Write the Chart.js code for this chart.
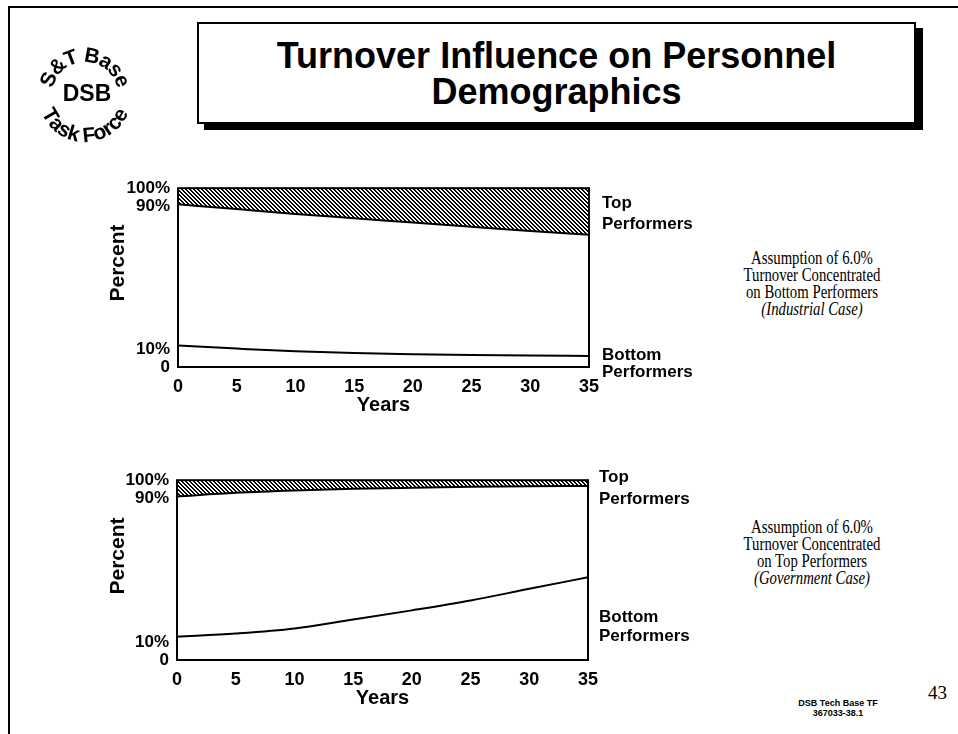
<!DOCTYPE html>
<html>
<head>
<meta charset="utf-8">
<script src="https://cdn.jsdelivr.net/npm/chart.js@4.4.1/dist/chart.umd.min.js"></script>
<style>
  html, body { margin: 0; padding: 0; background: #fff; }
  body { width: 958px; height: 734px; position: relative; overflow: hidden;
         font-family: "Liberation Sans", Arial, sans-serif; color: #000; }
  .abs { position: absolute; }
  #frameTop { left: 9px; top: 6px; width: 949px; height: 2px; background: #000; }
  #frameLeft { left: 8px; top: 6px; width: 2px; height: 728px; background: #000; }
  #titleBox { left: 197px; top: 22px; width: 715px; height: 98px; border: 2px solid #000;
              box-shadow: 7px 6px 0 #000; background: #fff; }
  .title { width: 100%; text-align: center; font-weight: bold; font-size: 36px; line-height: 36px; }
  .side { font-weight: bold; font-size: 17px; line-height: 17px; white-space: nowrap; }
  .ylab { font-weight: bold; font-size: 21px; transform: rotate(-90deg); transform-origin: center; width: 100px; text-align: center; }
  .note { width: 240px; text-align: center; font-family: "Liberation Serif", "Times New Roman", serif;
          font-size: 18px; line-height: 17px; transform: scaleX(0.82); white-space: nowrap; }
  canvas { position: absolute; }
</style>
</head>
<body>
<div id="frameTop" class="abs"></div>
<div id="frameLeft" class="abs"></div>
<canvas id="logo" width="180" height="160" style="left:0;top:0"></canvas>

<div id="titleBox" class="abs">
  <div class="title abs" style="top:14px">Turnover Influence on Personnel</div>
  <div class="title abs" style="top:50px">Demographics</div>
</div>

<canvas id="chart1" width="520" height="247" style="left:90px;top:170px"></canvas>
<canvas id="chart2" width="520" height="248" style="left:90px;top:462px"></canvas>

<div class="ylab abs" style="left:67px;top:251px">Percent</div>
<div class="ylab abs" style="left:67px;top:544px">Percent</div>

<div class="side abs" style="left:602px;top:194px">Top</div>
<div class="side abs" style="left:602px;top:215px">Performers</div>
<div class="side abs" style="left:602px;top:346px">Bottom</div>
<div class="side abs" style="left:602px;top:363px">Performers</div>

<div class="side abs" style="left:599px;top:468px">Top</div>
<div class="side abs" style="left:599px;top:490px">Performers</div>
<div class="side abs" style="left:599px;top:608px">Bottom</div>
<div class="side abs" style="left:599px;top:627px">Performers</div>

<div class="note abs" style="left:692px;top:250px">
  Assumption of 6.0%<br>Turnover Concentrated<br>on Bottom Performers<br><i>(Industrial Case)</i>
</div>
<div class="note abs" style="left:692px;top:519px">
  Assumption of 6.0%<br>Turnover Concentrated<br>on Top Performers<br><i>(Government Case)</i>
</div>

<div class="abs" style="left:780px;top:698px;width:116px;text-align:center;font-weight:bold;font-size:9px;line-height:10px">DSB Tech Base TF<br>367033-38.1</div>
<div class="abs" style="left:928px;top:682px;font-family:'Liberation Serif',serif;font-size:19px">43</div>

<script>
// Valeurs (années, % du personnel)
const years = [0, 5, 10, 15, 20, 25, 30, 35];
const industrialTop = [91, 88.3, 85.6, 83.2, 80.8, 78.4, 76, 74];
const industrialBottom = [12, 10.3, 8.8, 7.8, 7.2, 6.7, 6.4, 6.2];
const governmentTop = [91, 93, 94.3, 95.2, 95.8, 96.3, 96.6, 96.8];
const governmentBottom = [12.9, 14.7, 17.5, 22.5, 27.6, 33.1, 39.6, 46];
const yTicks = [0, 10, 90, 100];
const yTickLabels = ['0', '10%', '90%', '100%'];

Chart.defaults.font.family = "'Liberation Sans', Arial, sans-serif";
Chart.defaults.color = '#000';

// Motif hachuré pour les meilleurs éléments
function makeHatch() {
    const c = document.createElement('canvas');
    c.width = 4; c.height = 4;
    const g = c.getContext('2d');
    const img = g.createImageData(4, 4);
    for (let j = 0; j < 4; j++) {
        for (let i = 0; i < 4; i++) {
            const k = (j * 4 + i) * 4;
            const on = (((i - j) % 4) + 4) % 4 < 2;
            img.data[k] = img.data[k + 1] = img.data[k + 2] = on ? 0 : 255;
            img.data[k + 3] = 255;
        }
    }
    g.putImageData(img, 0, 0);
    return g.createPattern(c, 'repeat');
}

// Cadre autour de la zone du graphique
const framePlugin = {
    id: 'frame',
    afterDatasetsDraw(chart) {
        const { ctx, chartArea: a } = chart;
        ctx.save();
        ctx.strokeStyle = '#000';
        ctx.lineWidth = 2;
        ctx.strokeRect(a.left, a.top, a.right - a.left, a.bottom - a.top);
        ctx.restore();
    }
};

function toPoints(values) {
    return years.map((x, i) => ({ x: x, y: values[i] }));
}

function makeChart(id, topValues, bottomValues, yWidth, padRight) {
    return new Chart(document.getElementById(id), {
        type: 'line',
        data: {
            datasets: [{
                label: 'Top Performers',
                data: toPoints(topValues),
                borderColor: '#000',
                borderWidth: 2,
                backgroundColor: makeHatch(),
                fill: { value: 100 },
                pointRadius: 0,
                cubicInterpolationMode: 'monotone'
            }, {
                label: 'Bottom Performers',
                data: toPoints(bottomValues),
                borderColor: '#000',
                borderWidth: 2,
                fill: false,
                pointRadius: 0,
                cubicInterpolationMode: 'monotone'
            }]
        },
        options: {
            responsive: false,
            animation: false,
            layout: { padding: { left: 0, top: 17, right: padRight, bottom: 0 } },
            plugins: { legend: { display: false }, tooltip: { enabled: false } },
            scales: {
                x: {
                    type: 'linear',
                    min: 0,
                    max: 35,
                    grid: { display: false, drawTicks: false },
                    border: { display: false },
                    afterBuildTicks: (scale) => { scale.ticks = years.map(v => ({ value: v })); },
                    afterFit: (scale) => { scale.height = 50; },
                    ticks: { font: { size: 18, weight: 'bold' }, padding: 9, maxRotation: 0, autoSkip: false },
                    title: { display: true, text: 'Years', font: { size: 20, weight: 'bold' }, padding: { top: 0, bottom: 0 } }
                },
                y: {
                    type: 'linear',
                    min: 0,
                    max: 100,
                    grid: { display: false, drawTicks: false },
                    border: { display: false },
                    afterBuildTicks: (scale) => { scale.ticks = yTicks.map(v => ({ value: v })); },
                    afterFit: (scale) => { scale.width = yWidth; },
                    ticks: {
                        font: { size: 17, weight: 'bold' },
                        padding: 8,
                        autoSkip: false,
                        callback: (v) => yTickLabels[yTicks.indexOf(v)]
                    }
                }
            }
        },
        plugins: [framePlugin]
    });
}

makeChart('chart1', industrialTop, industrialBottom, 88, 21);
makeChart('chart2', governmentTop, governmentBottom, 87, 22);

// Logo circulaire "S&T Base / DSB / Task Force"
function drawLogo() {
    const ctx = document.getElementById('logo').getContext('2d');
    const cx = 85, cy = 95;
    ctx.fillStyle = '#000';
    ctx.font = "bold 21px 'Liberation Sans', Arial, sans-serif";
    ctx.textAlign = 'center';
    ctx.textBaseline = 'alphabetic';

    function arcText(text, r, mid, spacing, outside) {
        const widths = [...text].map(ch => ctx.measureText(ch).width + spacing);
        const total = widths.reduce((a, b) => a + b, 0);
        let ang = outside ? mid - total / r / 2 : mid + total / r / 2;
        [...text].forEach((ch, i) => {
            const half = widths[i] / 2 / r;
            ang += outside ? half : -half;
            ctx.save();
            ctx.translate(cx + r * Math.cos(ang), cy + r * Math.sin(ang));
            ctx.rotate(outside ? ang + Math.PI / 2 : ang - Math.PI / 2);
            ctx.fillText(ch, 0, 0);
            ctx.restore();
            ang += outside ? half : -half;
        });
    }
    arcText('S&T Base', 33, -Math.PI / 2, -1, true);
    arcText('Task Force', 47, Math.PI / 2, 0, false);

    ctx.font = "bold 23px 'Liberation Sans', Arial, sans-serif";
    ctx.textBaseline = 'middle';
    ctx.fillText('DSB', cx + 2, cy);
}
drawLogo();
</script>
</body>
</html>
